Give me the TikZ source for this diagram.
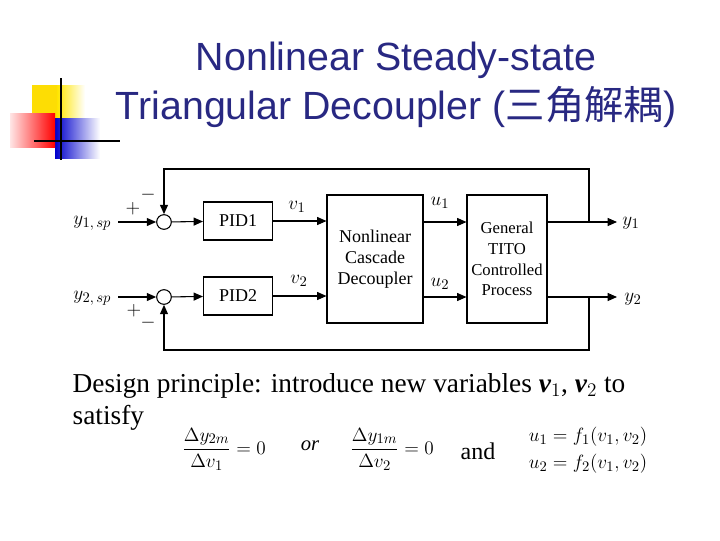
\documentclass[tikz,border=0pt]{standalone}
\usepackage{amsmath}
\usepackage{fontspec}
\setmainfont{Liberation Serif}
\setsansfont{Liberation Sans}
\newfontfamily\cjk{Noto Sans CJK SC}
\usetikzlibrary{positioning,arrows.meta}
\definecolor{titleblue}{RGB}{40,40,130}
\begin{document}
\begin{tikzpicture}[x=0.75pt,y=-0.75pt,
    blk/.style={draw,thick,minimum width=#1,inner sep=0pt,font=\fontsize{13.5}{15.5}\selectfont,align=center},
    sumj/.style={draw,circle,thick,minimum size=11pt,inner sep=0pt},
    sig/.style={thick,-{Triangle[length=7pt,width=6pt]}},
    lbl/.style={font=\fontsize{15.5}{16}\selectfont}]
  \useasboundingbox (0,0) rectangle (720,540);
  % logo
  \fill[yellow!80!orange] (32,85) rectangle (57,118);
  \shade[left color=yellow!80!orange,right color=white] (57,85) rectangle (85,118);
  \shade[left color=blue!80!black,right color=white] (55,118) rectangle (100,158);
  \shade[left color=red!10,right color=red] (10,113) rectangle (55,147);
  \draw[line width=1.5pt] (61,78) -- (61,160);
  \draw[line width=1.5pt] (34,141) -- (120,141);
  % title
  \node[font=\sffamily\fontsize{29.5}{32}\selectfont,text=titleblue] (t1) at (396,60) {Nonlinear Steady-state};
  \node[font=\sffamily\fontsize{29.5}{32}\selectfont,text=titleblue] (t2) at (396,107) {Triangular Decoupler ({\cjk 三角解耦})};
  % blocks
  \node[sumj] (s1) at (164,222) {};
  \node[sumj] (s2) at (164,297) {};
  \node[blk=69pt*0.75,minimum height=38pt*0.75] (pid1) at (238,221) {PID1};
  \node[blk=69pt*0.75,minimum height=38pt*0.75] (pid2) at (238,296) {PID2};
  \node[blk=96pt*0.75,minimum height=128pt*0.75] (dec) at (375,259) {Nonlinear\\Cascade\\Decoupler};
  \node[blk=80pt*0.75,minimum height=128pt*0.75,font=\fontsize{12.5}{15.5}\selectfont] (proc) at (507,259) {General\\TITO\\Controlled\\Process};
  \coordinate (in1) at (118,222);
  \coordinate (in2) at (118,297);
  \coordinate (out1) at (617,222);
  \coordinate (out2) at (617,297);
  % signals
  \draw[sig] (in1) -- (s1);
  \draw[sig] (in2) -- (s2);
  \draw[sig] (s1) -- (pid1);
  \draw[sig] (s2) -- (pid2);
  \draw[sig] (pid1.east) -- (pid1.east -| dec.west);
  \draw[sig] (pid2.east) -- (pid2.east -| dec.west);
  \draw[sig] (dec.east |- s1) -- (proc.west |- s1);
  \draw[sig] (dec.east |- s2) -- (proc.west |- s2);
  \draw[sig] (proc.east |- out1) -- (out1);
  \draw[sig] (proc.east |- out2) -- (out2);
  \draw[sig] (589,222) -- (589,169) -- (164,169) -- (s1);
  \draw[sig] (589,297) -- (589,350) -- (164,350) -- (s2);
  % labels
  \node[lbl,anchor=east] at (116,223) {$y_{1,\,sp}$};
  \node[lbl,anchor=east] at (116,298) {$y_{2,\,sp}$};
  \node[lbl] at (133,209) {$+$};
  \node[lbl] at (134,311) {$+$};
  \node[lbl] at (148,195) {$-$};
  \node[lbl] at (148,323) {$-$};
  \node[lbl] at (297,207) {$v_1$};
  \node[lbl] at (299,281) {$v_2$};
  \node[lbl] at (440,203) {$u_1$};
  \node[lbl] at (440,284) {$u_2$};
  \node[lbl] at (631,223) {$y_1$};
  \node[lbl] at (633,299) {$y_2$};
  % text
  \node[anchor=west,font=\fontsize{20.5}{24}\selectfont,align=left] (txt) at (68,402)
    {Design principle: introduce new variables \textbf{\textit{v}}$_1$, \textbf{\textit{v}}$_2$ to\\satisfy};
  \node[font=\fontsize{15.5}{18}\selectfont] (eq1) at (224,449) {$\dfrac{\Delta y_{2m}}{\Delta v_1}=0$};
  \node[font=\fontsize{15.5}{18}\selectfont] (or) at (310,446) {$\mathit{or}$};
  \node[font=\fontsize{15.5}{18}\selectfont] (eq2) at (392,449) {$\dfrac{\Delta y_{1m}}{\Delta v_2}=0$};
  \node[font=\fontsize{18}{20}\selectfont] (and) at (478,451) {and};
  \node[font=\fontsize{15}{17}\selectfont,align=left] (eq3) at (588,450)
    {$u_1=f_1(v_1,v_2)$\\[3pt]$u_2=f_2(v_1,v_2)$};
\end{tikzpicture}
\end{document}
